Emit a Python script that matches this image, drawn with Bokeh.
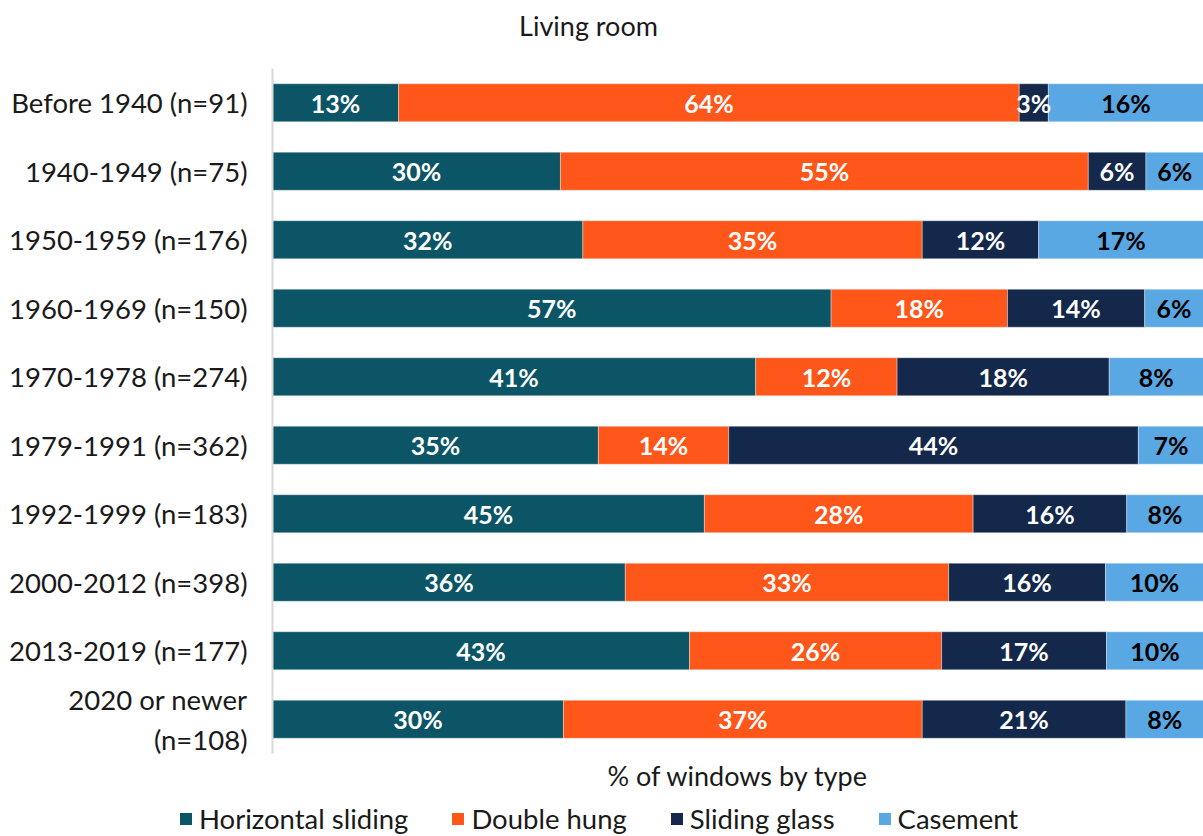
from bokeh.plotting import figure
from bokeh.layouts import column, row
from bokeh.models import (FactorRange, Range1d, Legend, LegendItem, ColumnDataSource, LabelSet,
                          Label, FixedTicker)
from bokeh.core.properties import value
from bokeh.embed import file_html
from bokeh.resources import INLINE

categories = ["Before 1940 (n=91)", "1940-1949 (n=75)", "1950-1959 (n=176)", "1960-1969 (n=150)",
              "1970-1978 (n=274)", "1979-1991 (n=362)", "1992-1999 (n=183)", "2000-2012 (n=398)",
              "2013-2019 (n=177)", "2020 or newer\n(n=108)"]
series = ["Horizontal sliding", "Double hung", "Sliding glass", "Casement"]
horizontal_sliding = [13, 30, 32, 57, 41, 35, 45, 36, 43, 30]
double_hung = [64, 55, 35, 18, 12, 14, 28, 33, 26, 37]
sliding_glass = [3, 6, 12, 14, 18, 44, 16, 16, 17, 21]
casement = [16, 6, 17, 6, 8, 7, 8, 10, 10, 8]
colors = ["#0B5566", "#FF561A", "#14284B", "#5AA8E3"]
label_colors = ["white", "white", "white", "black"]
title_text = "Living room"
x_title = "% of windows by type"

FONT = "Lato"
TXT = "#1a1a1a"
W = 1203
values = [horizontal_sliding, double_hung, sliding_glass, casement]
totals = [sum(v[i] for v in values) for i in range(len(categories))]


def strip(height):
    f = figure(width=W, height=height, output_backend="svg", toolbar_location=None,
               x_range=Range1d(0, W), y_range=Range1d(0, height),
               min_border=0, min_border_left=0, min_border_right=0,
               min_border_top=0, min_border_bottom=0)
    f.axis.visible = False
    f.grid.visible = False
    f.outline_line_color = None
    return f


# title strip
tf = strip(68)
tf.add_layout(Label(x=588, y=68 - 25, text=title_text, text_align="center", text_baseline="middle",
                    text_font=FONT, text_font_size="27px", text_color=TXT))

# main chart
p = figure(width=W, height=732, output_backend="svg", toolbar_location=None,
           x_range=Range1d(0, 100), y_range=FactorRange(factors=list(reversed(categories))),
           min_border_left=272, min_border_right=0, min_border_top=0, min_border_bottom=47)
p.outline_line_color = None
p.xgrid.visible = False
p.ygrid.visible = False

xax = p.xaxis[0]
xax.ticker = FixedTicker(ticks=[])
xax.axis_line_color = None
xax.major_tick_line_color = None
xax.minor_tick_line_color = None
xax.major_tick_out = 0
xax.axis_label = x_title
xax.axis_label_standoff = 5
xax.axis_label_text_font = FONT
xax.axis_label_text_font_size = "27px"
xax.axis_label_text_font_style = "normal"
xax.axis_label_text_color = TXT

yax = p.yaxis[0]
yax.axis_line_color = "#D9D9D9"
yax.axis_line_width = 2
yax.major_tick_line_color = None
yax.minor_tick_line_color = None
yax.major_tick_out = 0
yax.major_label_standoff = 25
yax.major_label_text_font = FONT
yax.major_label_text_font_size = "27.5px"
yax.major_label_text_color = TXT

left = [0.0] * len(categories)
for s, vals, col, lcol in zip(series, values, colors, label_colors):
    shares = [v / t * 100 for v, t in zip(vals, totals)]
    right = [l + s_ for l, s_ in zip(left, shares)]
    mids = [(l + r) / 2 for l, r in zip(left, right)]
    src = ColumnDataSource(dict(y=categories, left=left, right=right, mid=mids,
                                txt=[f"{v}%" for v in vals]))
    p.hbar(y="y", left="left", right="right", height=0.555, source=src,
           fill_color=col, line_color="white", line_alpha=0.35, line_width=1)
    p.add_layout(LabelSet(x="mid", y="y", text="txt", source=src, text_align="center",
                          text_baseline="middle", text_color=lcol, text_font=value(FONT),
                          text_font_style="bold", text_font_size="25px"))
    left = right

# legend strip
lg = strip(36)
items = []
for s, col in zip(series, colors):
    proxy = ColumnDataSource(dict(y=[0], left=[0], right=[0]))
    r = lg.hbar(y="y", left="left", right="right", height=0, source=proxy,
                fill_color=col, line_color=None)
    items.append(LegendItem(label=s, renderers=[r]))
legend = Legend(items=items, orientation="horizontal", location=(178, 1),
                padding=0, margin=0, spacing=42, label_standoff=6,
                glyph_width=15, glyph_height=15, border_line_color=None,
                background_fill_alpha=0, label_text_font=FONT, label_text_font_size="27.5px",
                label_text_color=TXT)
lg.add_layout(legend, "center")

layout = column(row(tf), p, row(lg), spacing=0)
open("out.html", "w").write(file_html(layout, INLINE))
